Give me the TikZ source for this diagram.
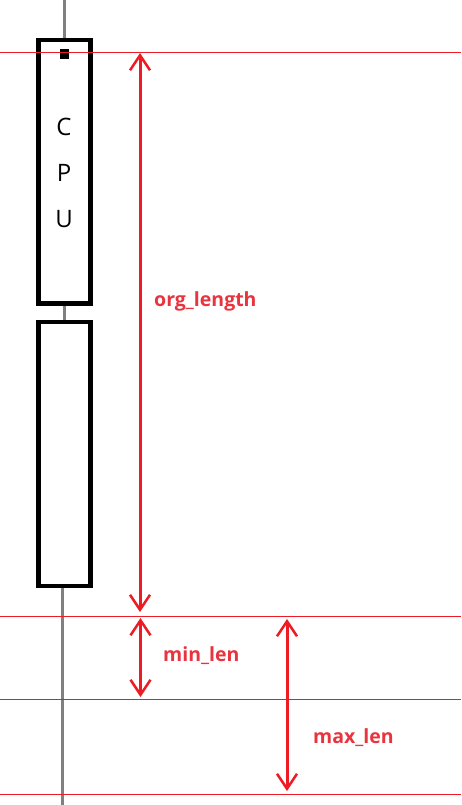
\documentclass[tikz,border=0pt]{standalone}
\usepackage{fontspec}
\setmainfont{Open Sans}
\usetikzlibrary{arrows.meta,positioning}
\definecolor{paintred}{RGB}{237,28,36}
\definecolor{labelred}{RGB}{232,52,62}
\definecolor{wiregray}{RGB}{128,128,128}

\begin{document}
\begin{tikzpicture}[x=1pt,y=-1pt, every node/.style={inner sep=0pt},
    block/.style={draw,line width=4.5pt,minimum width=52,minimum height=263},
    guide/.style={paintred,line width=1pt},
    dim/.style={paintred,line width=3pt,{Straight Barb[length=15pt,width=20pt,line width=2.5pt]}-{Straight Barb[length=15pt,width=20pt,line width=2.5pt]}},
    dimlabel/.style={anchor=base west,text=labelred,font=\bfseries\fontsize{19.5}{24}\selectfont}]
    \useasboundingbox (0,0) rectangle (461,805);
    \node[block] (cpu) at (64.5,171.75) {};
    \node[block,minimum height=264] (mem) at (64.5,454) {};
    \node[fill,minimum width=9,minimum height=10] (pin) at (64.5,54) {};
    \foreach \ch/\y in {C/127,P/173,U/219}
      \node[font=\fontsize{24}{28}\selectfont] (txt\ch) at (64,\y) {\ch};
    % wire
    \coordinate (wtop) at (64.5,0);
    \coordinate (wbot) at (62.5,805);
    \draw[wiregray,line width=2.5pt] (wtop) -- (cpu.north);
    \draw[wiregray,line width=2.5pt] (cpu.south) -- (mem.north);
    \draw[wiregray,line width=2.5pt] (mem.south -| wbot) -- (wbot);
    % guide lines
    \foreach \n/\y in {g1/53,g2/616.3,g3/699.3,g4/794.3} {
      \coordinate (\n) at (0,\y);
      \draw[guide] (\n) -- ++(461,0);
    }
    % dimensions
    \coordinate (orgtop) at (140,53);
    \coordinate (orgbot) at (140,612);
    \coordinate (mintop) at (140.5,618);
    \coordinate (minbot) at (140.5,697);
    \coordinate (maxtop) at (287,619);
    \coordinate (maxbot) at (287,791);
    \draw[dim] (orgtop) -- (orgbot);
    \draw[dim] (mintop) -- (minbot);
    \draw[dim] (maxtop) -- (maxbot);
    \node[dimlabel] (orglabel) at (154,306) {org\_length};
    \node[dimlabel] (minlabel) at (163,661) {min\_len};
    \node[dimlabel] (maxlabel) at (313,743) {max\_len};
\end{tikzpicture}
\end{document}
